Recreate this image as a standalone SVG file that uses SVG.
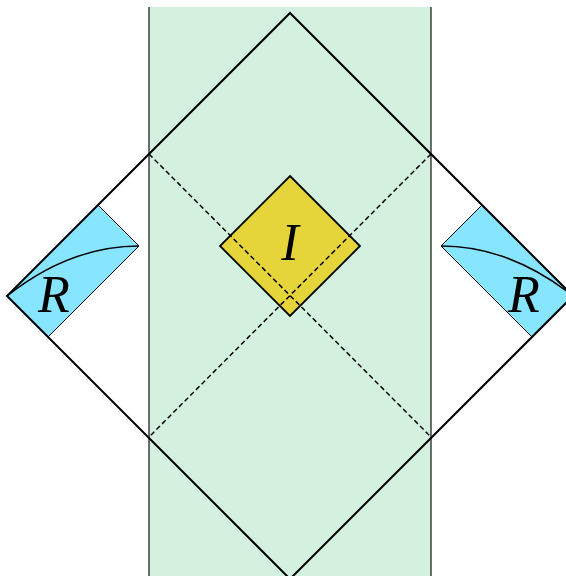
<svg xmlns="http://www.w3.org/2000/svg" width="566" height="576" viewBox="0 0 566 576">
<style>
.band{fill:#d4f1e0}
.bedge{stroke:#111;stroke-width:1.2}
.edge{fill:none;stroke:#000;stroke-width:2}
.dash{fill:none;stroke:#000;stroke-width:1.5;stroke-dasharray:5 3}
.reg{fill:#87e5ff;stroke:#000;stroke-width:1}
.curve{fill:none;stroke:#000;stroke-width:1.5}
.lbl{font-family:"Liberation Serif",serif;font-style:italic;font-size:52px;fill:#000}
</style>
<rect width="566" height="576" fill="#fff"/>
<g id="band">
<rect class="band" x="149" y="7" width="282" height="569"/>
<line class="bedge" x1="149" y1="7" x2="149" y2="576"/>
<line class="bedge" x1="431" y1="7" x2="431" y2="576"/>
</g>
<g id="region-left">
<polygon class="reg" points="7,296 98,205 139,246 48,337"/>
<path class="curve" d="M7,296 C50,262 95,246 139,246"/>
<text class="lbl" x="54" y="312" text-anchor="middle">R</text>
</g>
<g id="region-right">
<polygon class="reg" points="573,296 482,205 441,246 532,337"/>
<path class="curve" d="M573,296 C530,262 485,246 441,246"/>
<text class="lbl" x="524" y="312" text-anchor="middle">R</text>
</g>
<g id="interior">
<polygon points="290,176 360,246 290,316 220,246" fill="#e5d43a" stroke="#000" stroke-width="1.8"/>
<text class="lbl" x="290" y="260" text-anchor="middle">I</text>
</g>
<g id="connectors">
<polygon class="edge" points="290,13 573,296 290,579 7,296"/>
<line class="dash" x1="149" y1="154" x2="431" y2="437"/>
<line class="dash" x1="431" y1="154" x2="149" y2="437"/>
</g>
</svg>
